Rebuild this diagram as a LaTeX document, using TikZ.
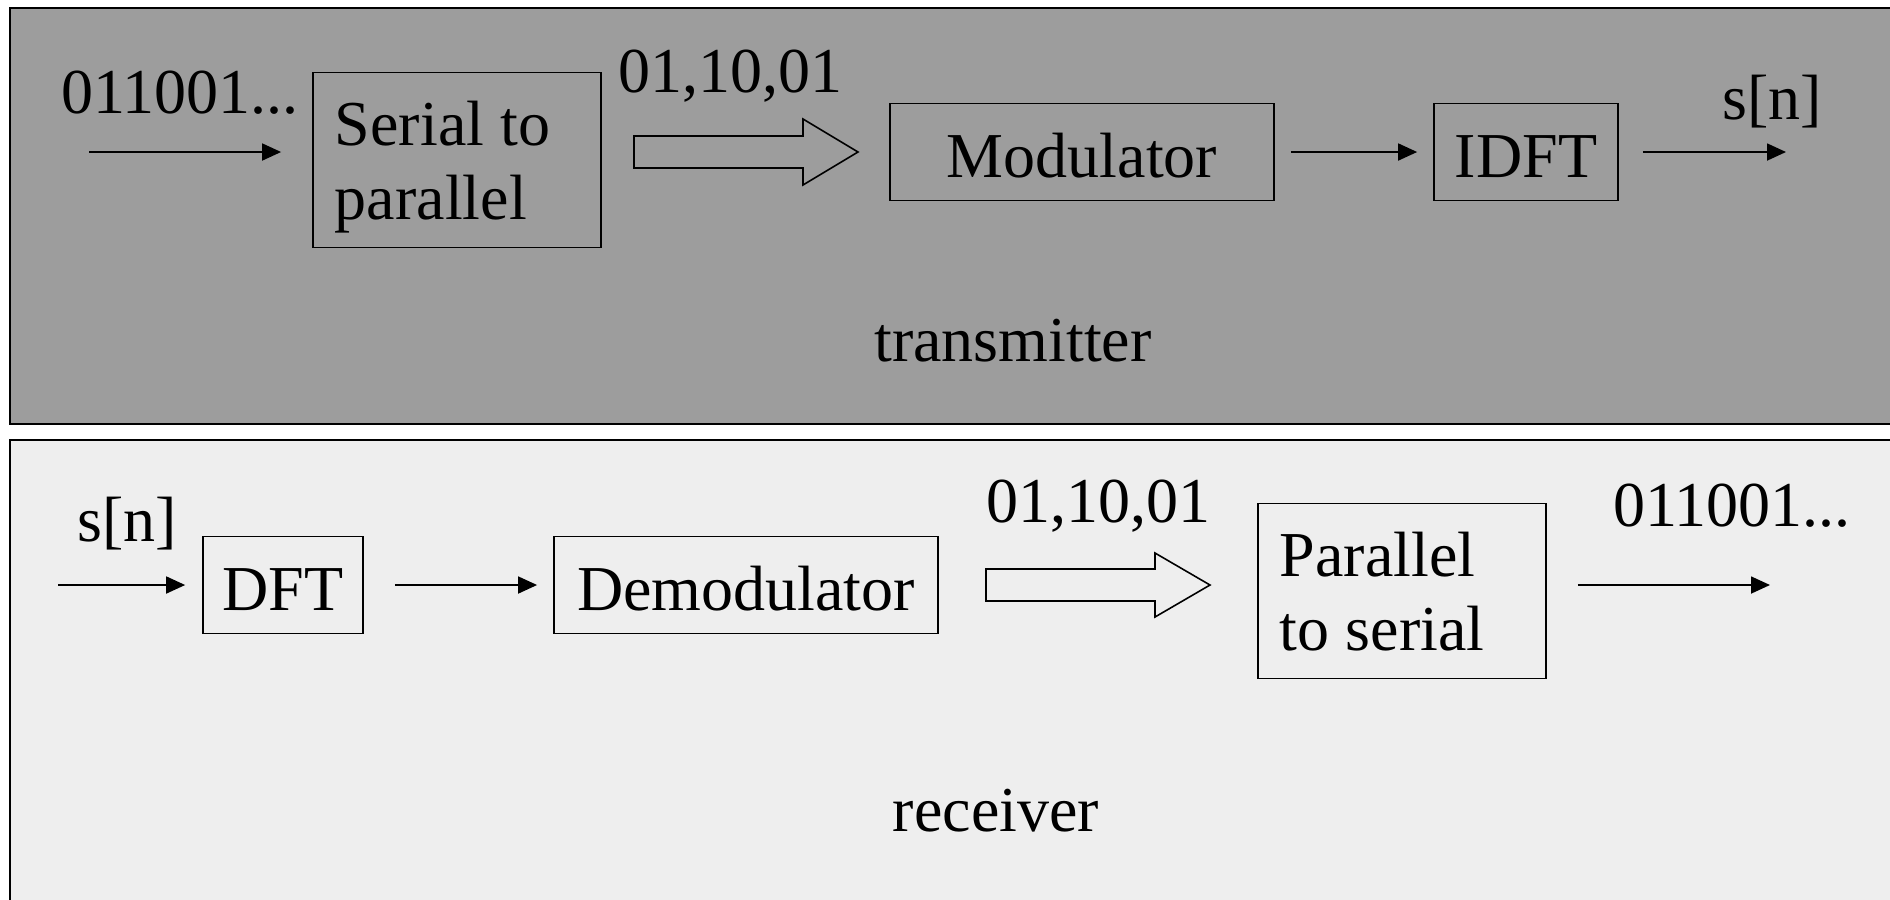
\documentclass[tikz,border=0pt]{standalone}
\usepackage{fontspec}
\setmainfont{Liberation Serif}
\usepackage{xcolor}
\usetikzlibrary{arrows.meta}

\definecolor{txgray}{RGB}{157,157,157}
\definecolor{rxgray}{RGB}{238,238,238}

\tikzset{
  block/.style={draw, line width=0.45pt, minimum height=0.97cm, inner sep=0pt, text height=0.6cm, text depth=0.09cm},
  twoline/.style={block, minimum width=2.88cm, minimum height=1.75cm, text width=2.44cm, align=flush left, text height=0.59cm, text depth=0.89cm},
  flow/.style={-{Triangle[length=0.19cm,width=0.17cm]}, line width=0.5pt},
  fatarrow/.style={draw, line width=0.45pt},
  panel/.style={draw, line width=0.6pt}
}

\begin{document}
\begin{tikzpicture}[x=0.01cm, y=-0.01cm, font=\fontsize{18.2}{21.3}\selectfont]
        \clip (0,0) rectangle (1890,899);

        % Panels
        \draw[panel, fill=txgray] (10,8) rectangle (1905,424);
        \draw[panel, fill=rxgray] (10,440) rectangle (1905,915);

        % Transmitter chain
        \node[twoline] (s2p) at (457,160) {Serial to\\parallel};
        \node[block, minimum width=3.84cm] (mod) at (1082,152) {Modulator};
        \node[block, minimum width=1.84cm] (idft) at (1526,152) {IDFT};

        \node (bitsTx) at (180,93) {011001...};
        \node (pairsTx) at (730,76) {01,10,01};
        \node (snTx) at (1772,102) {s[n]};
        \node (tx) at (1013,341) {transmitter};

        \coordinate (inTx) at (89,152);
        \coordinate (outTx) at (1786,152);
        \draw[flow, shorten >=0.31cm] (inTx) -- (s2p.west |- inTx);
        \draw[flow, shorten <=0.16cm, shorten >=0.16cm] (mod) -- (idft);
        \draw[flow, shorten <=0.24cm] (idft) -- (outTx);
        \draw[fatarrow] (634,136) -- (803,136) -- (803,119) -- (858,152) -- (803,185) -- (803,168) -- (634,168) -- cycle;

        % Receiver chain
        \node[block, minimum width=1.60cm] (dft) at (283,585) {DFT};
        \node[block, minimum width=3.84cm] (demod) at (746,585) {Demodulator};
        \node[twoline] (p2s) at (1402,591) {Parallel\\to serial};

        \node (snRx) at (127,524) {s[n]};
        \node (pairsRx) at (1098,506) {01,10,01};
        \node (bitsRx) at (1732,506) {011001...};
        \node (rx) at (996,811) {receiver};

        \coordinate (inRx) at (58,585);
        \coordinate (outRx) at (1770,585);
        \draw[flow, shorten >=0.17cm] (inRx) -- (dft);
        \draw[flow, shorten <=0.31cm, shorten >=0.16cm] (dft) -- (demod);
        \draw[flow, shorten <=0.31cm] (p2s.east |- outRx) -- (outRx);
        \draw[fatarrow] (986,569) -- (1155,569) -- (1155,553) -- (1210,585) -- (1155,617) -- (1155,601) -- (986,601) -- cycle;
    \end{tikzpicture}
\end{document}
